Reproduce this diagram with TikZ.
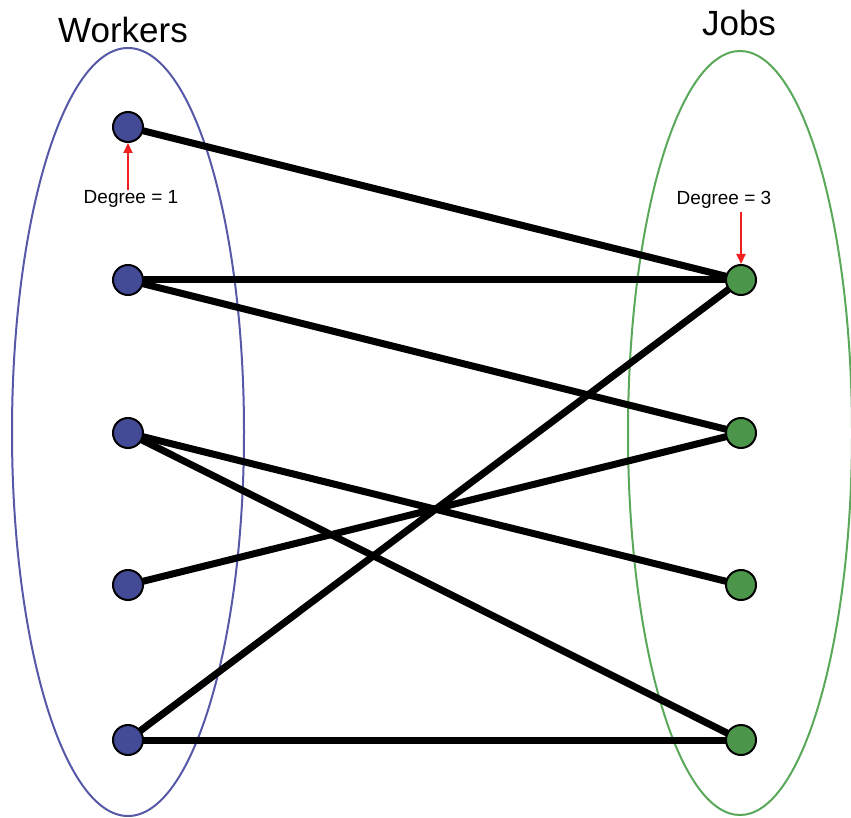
\documentclass[tikz,border=0pt]{standalone}
\usepackage{fontspec}
\setmainfont{Liberation Sans}
\usetikzlibrary{arrows.meta}
\definecolor{wfill}{HTML}{434B96}
\definecolor{jfill}{HTML}{4C964C}
\definecolor{wring}{HTML}{5658A8}
\definecolor{jring}{HTML}{5AA85A}
\definecolor{degred}{HTML}{F02020}
\begin{document}
\begin{tikzpicture}[x=1pt,y=-1pt,
  worker/.style={circle,draw=black,line width=2pt,fill=wfill,minimum size=30pt,inner sep=0pt},
  job/.style={circle,draw=black,line width=2pt,fill=jfill,minimum size=30pt,inner sep=0pt},
  edge/.style={line width=7pt,black},
  setring/.style={line width=2pt},
  title/.style={font=\fontsize{35}{40}\selectfont},
  deg/.style={font=\fontsize{19}{22}\selectfont},
  degarrow/.style={degred,line width=2pt,-{Triangle[length=10pt,width=9pt]}}]
\useasboundingbox (0,0) rectangle (851,818);
% the two vertex sets
\draw[setring,wring] (128,432) ellipse [x radius=116, y radius=384];
\draw[setring,jring] (740,433) ellipse [x radius=112, y radius=382];
\node[title] (wt) at (123,30) {Workers};
\node[title] (jt) at (739,23) {Jobs};
% vertex positions
\coordinate (w1p) at (128,127);
\coordinate (w2p) at (128,280);
\coordinate (w3p) at (128,433);
\coordinate (w4p) at (128,585);
\coordinate (w5p) at (128,740);
\coordinate (j1p) at (741,280);
\coordinate (j2p) at (741,433);
\coordinate (j3p) at (741,585);
\coordinate (j4p) at (741,740);
% edges
\draw[edge] (w1p) -- (j1p);
\draw[edge] (w2p) -- (j1p);
\draw[edge] (w2p) -- (j2p);
\draw[edge] (w3p) -- (j3p);
\draw[edge] (w3p) -- (j4p);
\draw[edge] (w4p) -- (j2p);
\draw[edge] (w5p) -- (j1p);
\draw[edge] (w5p) -- (j4p);
% vertices
\node[worker] (w1) at (w1p) {};
\node[worker] (w2) at (w2p) {};
\node[worker] (w3) at (w3p) {};
\node[worker] (w4) at (w4p) {};
\node[worker] (w5) at (w5p) {};
\node[job] (j1) at (j1p) {};
\node[job] (j2) at (j2p) {};
\node[job] (j3) at (j3p) {};
\node[job] (j4) at (j4p) {};
% degree annotations
\node[deg] (d1) at (131,199) {Degree = 1};
\node[deg] (d3) at (724,200) {Degree = 3};
\draw[degarrow] (128,190) -- (w1.south);
\draw[degarrow] (741,212) -- (j1.north);
\end{tikzpicture}
\end{document}
